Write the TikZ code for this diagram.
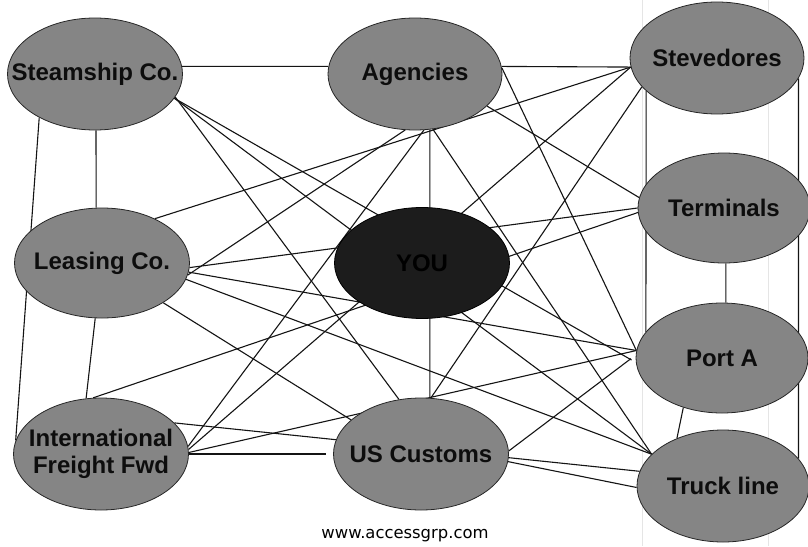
\documentclass[tikz,border=0pt]{standalone}
\usepackage{fontspec}
\setmainfont{Liberation Sans}
\newfontfamily\footfont{DejaVu Sans}
\usetikzlibrary{shapes.geometric}
\pgfdeclarelayer{bg}
\pgfsetlayers{bg,main}
\begin{document}
\begin{tikzpicture}[x=1pt,y=-1pt,
  actor/.style={ellipse, draw=black!85, line width=0.8pt, fill=black!48,
    inner xsep=-45pt, inner ysep=-25pt, minimum width=175pt, minimum height=112pt,
    font=\fontsize{24}{27}\selectfont\bfseries, text=black!95, align=center},
  selfnode/.style={actor, fill=black!89, text=black, draw=black},
  link/.style={line width=1.1pt, draw=black!92},
  scan/.style={draw=black!10, line width=0.6pt}]
\useasboundingbox (0,0) rectangle (808,546);

\node[actor] (ss) at (95,74) {Steamship Co.};
\node[actor, minimum width=174pt] (ag) at (415,74) {Agencies};
\node[actor, minimum width=174pt] (st) at (717,58) {Stevedores};
\node[actor, minimum width=172pt, minimum height=110pt] (tm) at (724,208) {Terminals};
\node[actor, minimum height=110pt] (ls) at (102,263) {Leasing Co.};
\node[selfnode, minimum height=111pt] (you) at (422,263) {YOU};
\node[actor, minimum width=172pt, minimum height=110pt] (pa) at (722,358) {Port A};
\node[actor] (iff) at (101,454) {International\\Freight Fwd};
\node[actor] (us) at (421,454) {US Customs};
\node[actor, minimum width=172pt] (tr) at (723,486) {Truck line};

\node[font=\footfont\fontsize{16.4}{19}\selectfont, anchor=base, inner sep=0pt] (web) at (405,538) {www.accessgrp.com};

\begin{pgfonlayer}{bg}
\fill[white] (0,0) rectangle (808,546);
\draw[scan] (642,0) -- (642,546);
\draw[scan] (768,0) -- (768,546);

\draw[link] (ss.5) -- (ag.175);
\draw[link] (ag.5) -- (st.186);
\draw[link] (ss.-89) -- (ls.96);
\draw[link] (ss.-142) -- (iff.171);
\draw[link] (ls.-97) -- (iff.105);
\draw[link] (st.-155) -- (pa.161);
\draw[link] (st.-14) -- (tr.20);
\draw[link] (tm.-88) -- (pa.86);
\draw[link] (pa.-128) -- (tr.134);

\draw[link] (ss.-16) -- (us.112);
\draw[link] (ss.-17) -- (tr.156);
\draw[link, shorten >=5pt] (ss.-17) -- (pa.183);

\draw[link] (ag.4) -- (pa.175);
\draw[link] (ag.-72) -- (tr.156);
\draw[link] (ag.-75) -- (us.81);
\draw[link] (ag.-24) -- (tm.173);
\draw[link] (ag.-100) -- (ls.-8);
\draw[link] (ag.-81) -- (iff.5);

\draw[link] (ls.40) -- (st.186);
\draw[link] (ls.-3) -- (tm.180);
\draw[link] (ls.-6) -- (pa.175);
\draw[link] (ls.-11) -- (tr.156);
\draw[link] (ls.-33) -- (us.154);

\draw[link] (iff.98) -- (tm.183);
\draw[link] (iff.3) -- (st.186);
\draw[link] (iff.1) -- (pa.175);
\draw[link, shorten >=7pt] (iff.0) -- (us.180);
\draw[link] (iff.23) -- (tr.170);

\draw[link] (us.-5) -- (tr.181);
\draw[link, shorten >=6pt] (us.2) -- (pa.178);
\draw[link] (st.-159) -- (us.80);
\end{pgfonlayer}
\end{tikzpicture}
\end{document}
